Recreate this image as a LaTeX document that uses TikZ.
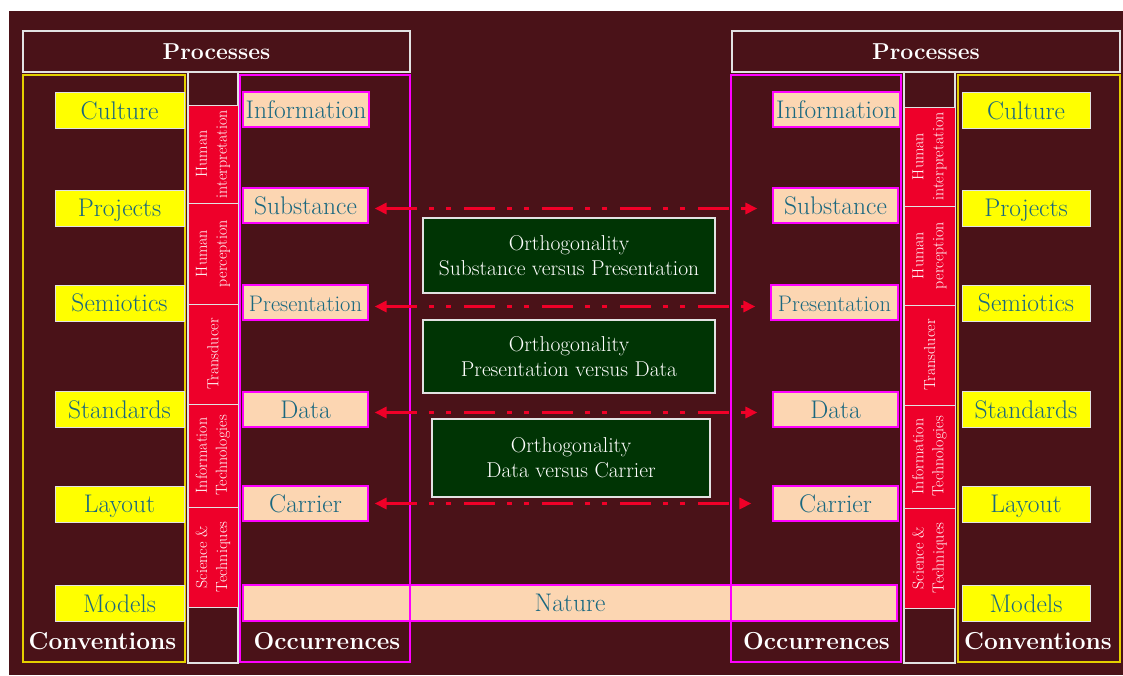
\documentclass[tikz,border=0pt]{standalone}
\usepackage{tikz}
\usetikzlibrary{arrows.meta,calc}

\definecolor{bgmaroon}{RGB}{74,18,24}
\definecolor{convyellow}{RGB}{255,255,0}
\definecolor{frameyellow}{RGB}{228,208,0}
\definecolor{occpeach}{RGB}{252,214,178}
\definecolor{occmagenta}{RGB}{255,0,255}
\definecolor{labelteal}{RGB}{26,104,128}
\definecolor{procred}{RGB}{238,0,42}
\definecolor{orthgreen}{RGB}{0,52,4}
\definecolor{framegrey}{RGB}{226,226,226}
\definecolor{arrowred}{RGB}{240,0,40}

\newcommand\lblfont{\fontsize{25.5}{28}\selectfont}
\newcommand\narrowfont{\fontsize{22.5}{26}\selectfont}
\newcommand\headfont{\fontsize{23}{26}\selectfont\bfseries}
\newcommand\footfont{\fontsize{24.5}{27}\selectfont\bfseries}
\newcommand\cellfont{\fontsize{16}{20}\selectfont}
\newcommand\orthfont{\fontsize{21.5}{25}\selectfont}

\begin{document}
\begin{tikzpicture}[x=1pt,y=1pt,yscale=-1,xscale=1,
	head/.style={text=white,font=\headfont,inner sep=0pt},
	foot/.style={text=white,font=\footfont,inner sep=0pt},
	conv/.style={draw=framegrey,line width=0.8,fill=convyellow,text=labelteal,font=\lblfont,minimum width=129,minimum height=36,text height=18pt,text depth=1pt,inner sep=0pt},
	occ/.style={draw=occmagenta,line width=1.2,fill=occpeach,text=labelteal,font=\lblfont,minimum width=126,minimum height=35,text height=18pt,text depth=1pt,inner sep=0pt},
	cell/.style={draw=framegrey,line width=1,fill=procred,text=white,font=\cellfont,align=center,rotate=90,minimum height=50,inner sep=0pt},
	orth/.style={draw=framegrey,line width=1.5,fill=orthgreen,text=white,font=\orthfont,align=center,inner sep=0pt},
	orth arrow/.style={draw=arrowred,line width=3,{Triangle[length=12pt,width=11pt]}-{Triangle[length=12pt,width=11pt]},dash pattern=on 31pt off 12pt on 5pt off 12pt on 5pt off 13pt}]
			\useasboundingbox (0,0) rectangle (1123,675);
			%Shape: Rectangle (background)
			\fill [bgmaroon] (9,11) rectangle (1123,675);

			%Shape: Rectangle (processes, left and right)
			\draw (216.5,51.5) node [head,draw=framegrey,line width=1.5,minimum width=387,minimum height=41] (procL) {Processes};
			\draw (926,51.5) node [head,draw=framegrey,line width=1.5,minimum width=388,minimum height=41] (procR) {Processes};

			%Shape: Rectangle (conventions frames)
			\draw [frameyellow,line width=1.5] (23,75) rectangle (185,662);
			\draw [frameyellow,line width=1.5] (958,75) rectangle (1120,662);
			%Shape: Rectangle (process columns)
			\draw [framegrey,line width=1.5] (188,72) rectangle (238,663);
			\draw [framegrey,line width=1.5] (904,72) rectangle (955,663);

			% Process cells, left
			\draw (213,154) node [cell,minimum width=98] (hintL) {Human\\interpretation};
			\draw (213,253.5) node [cell,minimum width=101] (hperL) {Human\\perception};
			\draw (213,354) node [cell,minimum width=100] (transL) {Transducer};
			\draw (213,455.5) node [cell,minimum width=103] (itL) {Information\\Technologies};
			\draw (213,557) node [cell,minimum width=100] (sciL) {Science \&\\Techniques};
			% Process cells, right
			\draw (929.5,156.5) node [cell,minimum width=99,minimum height=51] (hintR) {Human\\interpretation};
			\draw (929.5,255.5) node [cell,minimum width=99,minimum height=51] (hperR) {Human\\perception};
			\draw (929.5,355) node [cell,minimum width=100,minimum height=51] (transR) {Transducer};
			\draw (929.5,456.5) node [cell,minimum width=103,minimum height=51] (itR) {Information\\Technologies};
			\draw (929.5,558) node [cell,minimum width=100,minimum height=51] (sciR) {Science \&\\Techniques};

			%Shape: Rectangle (nature bar)
			\draw (570,603) node [occ,minimum width=654,minimum height=36] (nature) {Nature};
			%Shape: Rectangle (occurrences frames)
			\draw [occmagenta,line width=1.5] (240,75) rectangle (410,662);
			\draw [occmagenta,line width=1.5] (731,75) rectangle (901,662);

			% Conventions, left
			\draw (119.5,110.5) node [conv] (cultL) {Culture};
			\draw (119.5,208) node [conv] (projL) {Projects};
			\draw (119.5,303) node [conv] (semL) {Semiotics};
			\draw (119.5,409.5) node [conv] (stdL) {Standards};
			\draw (119.5,504) node [conv] (layL) {Layout};
			\draw (119.5,603.5) node [conv] (modL) {Models};
			% Conventions, right
			\draw (1026,110.5) node [conv,minimum width=128] (cultR) {Culture};
			\draw (1026,208) node [conv,minimum width=128] (projR) {Projects};
			\draw (1026,303) node [conv,minimum width=128] (semR) {Semiotics};
			\draw (1026,409.5) node [conv,minimum width=128] (stdR) {Standards};
			\draw (1026,504) node [conv,minimum width=128] (layR) {Layout};
			\draw (1026,603.5) node [conv,minimum width=128] (modR) {Models};

			% Occurrences, left
			\draw (306,109.5) node [occ] (infoL) {Information};
			\draw (305.5,205.5) node [occ,minimum width=125] (subL) {Substance};
			\draw (305.5,302.5) node [occ,minimum width=125,font=\narrowfont] (presL) {Presentation};
			\draw (305.5,409.5) node [occ,minimum width=125] (dataL) {Data};
			\draw (305.5,503.5) node [occ,minimum width=125] (carL) {Carrier};
			% Occurrences, right
			\draw (836.5,109.5) node [occ,minimum width=127] (infoR) {Information};
			\draw (835.5,205.5) node [occ,minimum width=125] (subR) {Substance};
			\draw (834.5,302.5) node [occ,minimum width=127,font=\narrowfont] (presR) {Presentation};
			\draw (835.5,409.5) node [occ,minimum width=125] (dataR) {Data};
			\draw (835.5,503.5) node [occ,minimum width=125] (carR) {Carrier};

			% Orthogonality boxes
			\draw (569,255.5) node [orth,minimum width=292,minimum height=75] (orthSP) {Orthogonality\\Substance versus Presentation};
			\draw (569,356.5) node [orth,minimum width=292,minimum height=73] (orthPD) {Orthogonality\\Presentation versus Data};
			\draw (571,458) node [orth,minimum width=278,minimum height=78] (orthDC) {Orthogonality\\Data versus Carrier};

			%Straight Lines (orthogonality arrows)
			\draw [orth arrow] ($(subL.east)+(6,3)$) -- ($(subR.west)+(-15,3)$);
			\draw [orth arrow] ($(presL.east)+(6,4)$) -- ($(presR.west)+(-15,4)$);
			\draw [orth arrow] ($(dataL.east)+(6,3)$) -- ($(dataR.west)+(-15,3)$);
			\draw [orth arrow] ($(carL.east)+(6,0)$) -- ($(carR.west)+(-21,0)$);

			% Text Node
			\draw (102.5,641) node [foot] (convL) {Conventions};
			% Text Node
			\draw (327,641) node [foot] (occL) {Occurrences};
			% Text Node
			\draw (816.5,641) node [foot] (occR) {Occurrences};
			% Text Node
			\draw (1038,641) node [foot] (convR) {Conventions};
\end{tikzpicture}
\end{document}
